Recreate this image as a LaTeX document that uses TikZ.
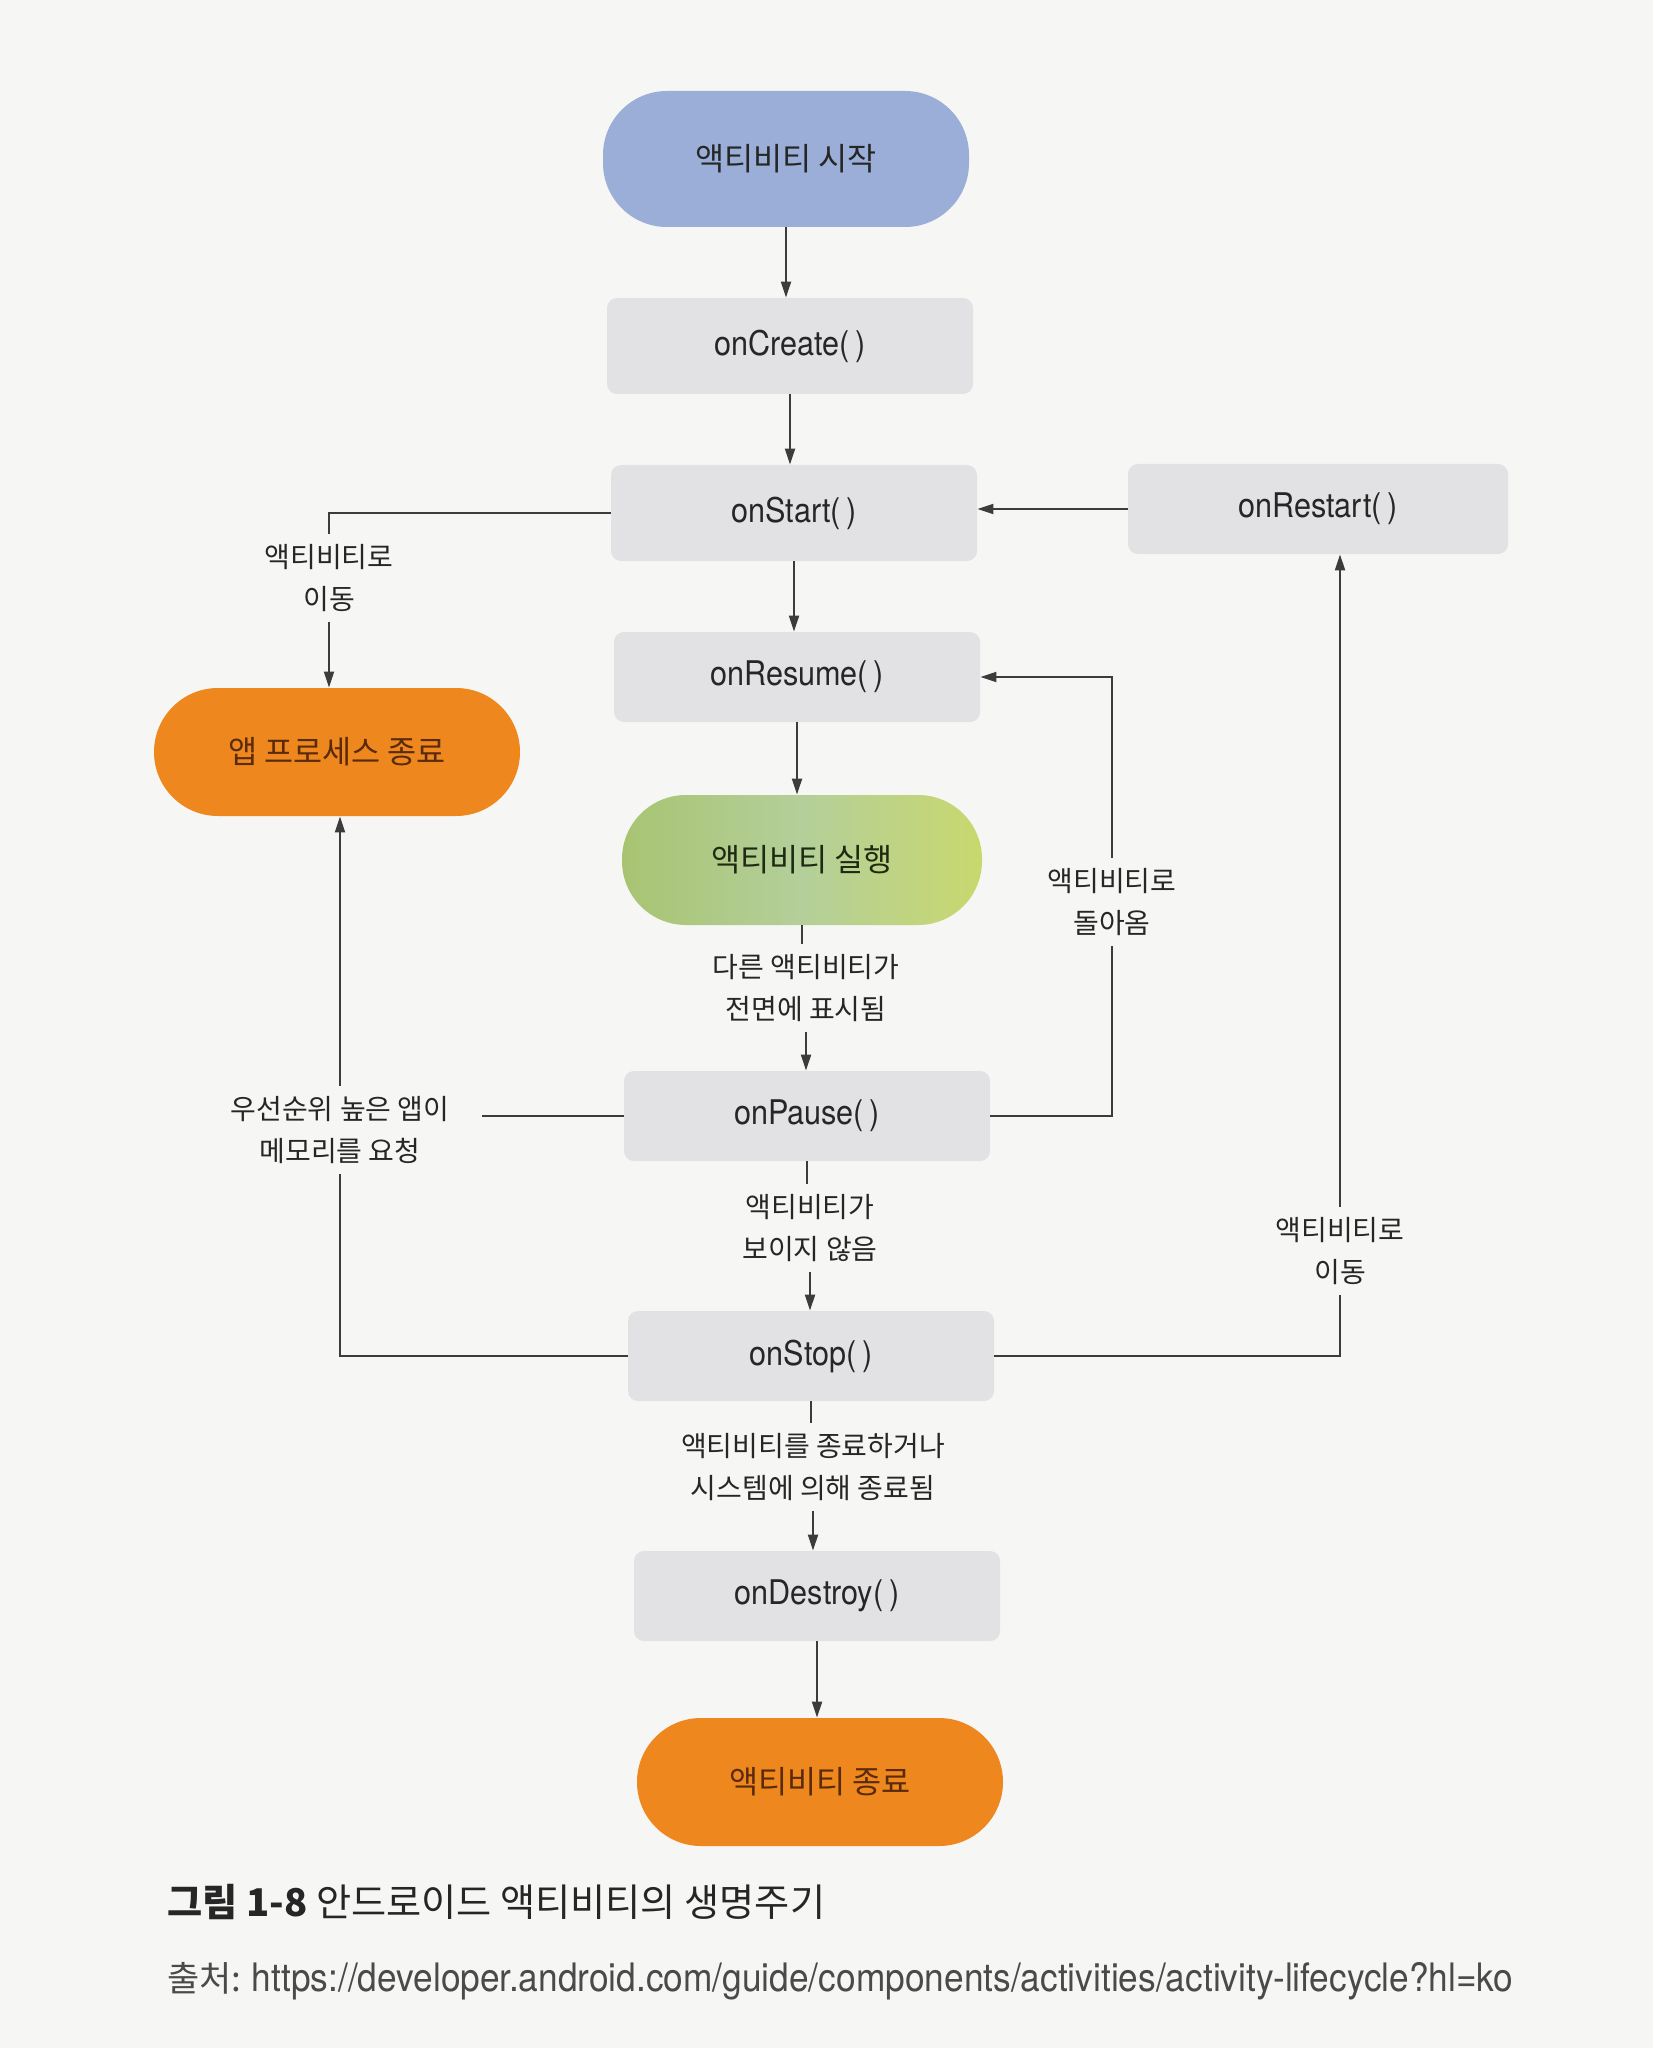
\documentclass[tikz,border=0pt]{standalone}
\usepackage{fontspec}
\setmainfont{Noto Sans CJK KR}
\newfontfamily\hel[FakeStretch=0.9]{TeX Gyre Heros}
\usetikzlibrary{arrows.meta,calc}
\definecolor{bg}{HTML}{F6F6F4}
\definecolor{boxgray}{HTML}{E2E2E4}
\definecolor{pillblue}{HTML}{9AAED8}
\definecolor{pillorange}{HTML}{EE871E}
\definecolor{greenL}{HTML}{A8C472}
\definecolor{greenM}{HTML}{B4CF9A}
\definecolor{greenR}{HTML}{C8D86E}
\definecolor{linegray}{HTML}{3C3C3C}
\definecolor{txt}{HTML}{262626}
\definecolor{srcgray}{HTML}{4A4A4A}
\definecolor{darkbrown}{HTML}{5A2A0C}
\definecolor{darkgreen}{HTML}{1F2A12}
\begin{document}
\begin{tikzpicture}[x=0.5pt,y=-0.5pt,
  method/.style={fill=boxgray, rounded corners=5pt, minimum width=183pt, minimum height=46pt,
    font=\hel\fontsize{17}{18}\selectfont, text=txt, inner sep=0pt},
  pill/.style={rounded corners=32pt, minimum width=183pt, minimum height=65pt,
    font=\fontsize{15.8}{18}\selectfont, inner sep=0pt},
  elabel/.style={align=center, font=\fontsize{14}{21}\selectfont, text=txt,
    inner xsep=4pt, inner ysep=5pt},
  conn/.style={draw=linegray, line width=1pt},
  arr/.style={conn, -{Triangle[length=8pt,width=5pt]}},
]
\fill[bg] (0,0) rectangle (1653,2048);
\useasboundingbox (0,0) rectangle (1653,2048);

% main nodes
\node[pill, fill=pillblue, text=txt, minimum height=68pt] (start) at (786,159) {액티비티 시작};
\node[method, minimum height=48pt] (create) at (790,346) {onCreate(\,)};
\node[method, minimum height=48pt] (onstart) at (794,513) {onStart(\,)};
\node[method, minimum width=190pt, minimum height=45pt] (restart) at (1318,509) {onRestart(\,)};
\node[method, minimum height=45pt] (resume) at (797,677) {onResume(\,)};
\node[pill, fill=pillorange, text=darkbrown, minimum height=64pt] (kill) at (337,752) {앱 프로세스 종료};
\node[pill, left color=greenL, right color=greenR, middle color=greenM, text=darkgreen,
  minimum width=180pt] (run) at (802,860) {액티비티 실행};
\node[method, minimum height=45pt] (pause) at (807,1116) {onPause(\,)};
\node[method, minimum height=45pt] (stop) at (811,1356) {onStop(\,)};
\node[method, minimum height=45pt] (destroy) at (817,1596) {onDestroy(\,)};
\node[pill, fill=pillorange, text=darkbrown, minimum height=64pt] (endp) at (820,1782) {액티비티 종료};

% edge labels
\node[elabel] (lA) at (806,988) {다른 액티비티가\\전면에 표시됨};
\node[elabel] (lB) at (810,1228) {액티비티가\\보이지 않음};
\node[elabel] (lC) at (813,1467) {액티비티를 종료하거나\\시스템에 의해 종료됨};
\node[elabel] (lD) at (329,578) {액티비티로\\이동};
\node[elabel] (lE) at (340,1130) {우선순위 높은 앱이\\메모리를 요청};
\node[elabel] (lF) at (1112,902) {액티비티로\\돌아옴};
\node[elabel] (lG) at (1340,1251) {액티비티로\\이동};
\coordinate (eE) at ([xshift=12pt]lE.east);

% main chain
\draw[arr] (start.south) -- (start.south |- create.north);
\draw[arr] (create.south) -- (create.south |- onstart.north);
\draw[arr] (onstart.south) -- (onstart.south |- resume.north);
\draw[arr] (resume.south) -- (resume.south |- run.north);
\draw[conn] (run.south) -- (run.south |- lA.north);
\draw[arr] (lA.south) -- (lA.south |- pause.north);
\draw[conn] (pause.south) -- (pause.south |- lB.north);
\draw[arr] (lB.south) -- (lB.south |- stop.north);
\draw[conn] (stop.south) -- (stop.south |- lC.north);
\draw[arr] (lC.south) -- (lC.south |- destroy.north);
\draw[arr] (destroy.south) -- (destroy.south |- endp.north);

% side connectors
\draw[arr] (restart.west) -- (restart.west -| onstart.east);
\draw[conn] (onstart.west) -| (lD.north);
\draw[arr] (lD.south) -- (lD.south |- kill.north);
\draw[conn] (stop.west) -| (lE.south);
\draw[arr] (lE.north) -- (lE.north |- kill.south);
\draw[conn] (pause.west) -- (pause.west -| eE);
\draw[conn] (pause.east) -| (lF.south);
\draw[arr] (lF.north) |- (resume.east);
\draw[conn] (stop.east) -| (lG.south);
\draw[arr] (lG.north) -- (lG.north |- restart.south);

% caption
\node[anchor=west, font=\fontsize{19.1}{21}\selectfont, text=txt, inner sep=0pt] (cap) at (167,1902)
  {\textbf{그림 1-8} 안드로이드 액티비티의 생명주기};
\node[anchor=west, font=\fontsize{17.5}{20}\selectfont, text=srcgray, inner sep=0pt] (src) at (167,1981)
  {출처: {\hel\fontsize{19.6}{20}\selectfont https://developer.android.com/guide/components/activities/activity-lifecycle?hl=ko}};
\end{tikzpicture}
\end{document}
